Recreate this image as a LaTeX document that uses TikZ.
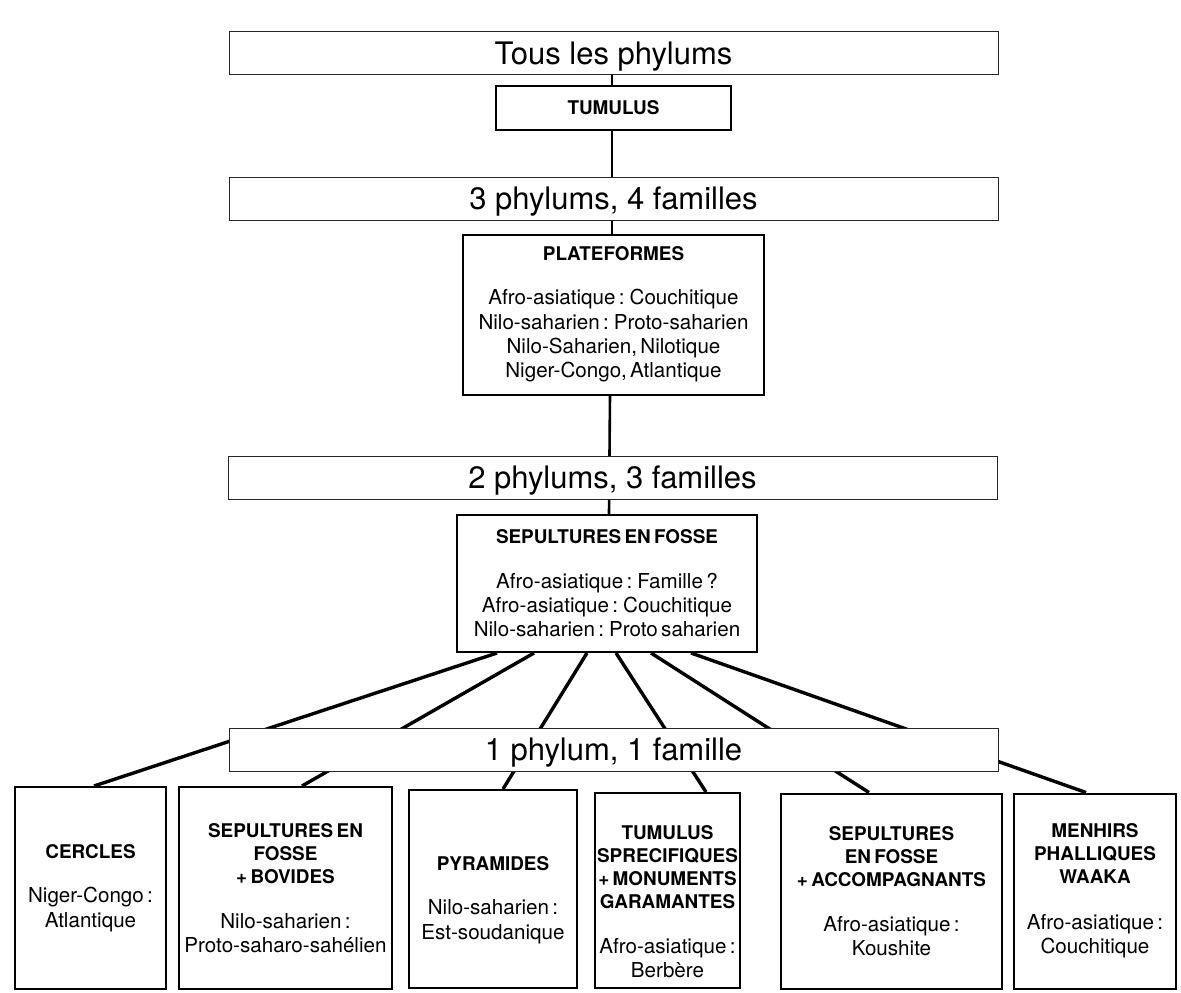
\documentclass[tikz,border=0pt]{standalone}
\usepackage{fontspec}
\setmainfont{TeX Gyre Heros}
\usetikzlibrary{backgrounds}
\newcommand\ttlf{\bfseries\fontsize{18.9}{23}\selectfont}
\newcommand\bdyf{\mdseries\fontsize{20.6}{24.3}\selectfont}
\tikzset{
  band/.style={draw=black!85, line width=1pt, fill=white, inner sep=0pt,
    minimum width=769pt, minimum height=43pt, text height=28pt, text depth=5.6pt,
    font=\fontsize{31}{37}\selectfont},
  box/.style={draw=black, line width=2pt, fill=white, inner sep=0pt, align=center},
  txt/.style={inner sep=0pt, align=center},
  conn/.style={line width=2.6pt},
  fan/.style={line width=3.4pt},
}
\begin{document}
\begin{tikzpicture}[x=1pt,y=-1pt]
\useasboundingbox (0,0) rectangle (1181,993);
% bands
\node[band] (b1) at (613.5,53) {Tous les phylums};
\node[box, minimum width=235pt, minimum height=44pt, font=\ttlf] (tumulus) at (613.5,108) {TUMULUS};
\node[band] (b2) at (613.5,198.5) {3 phylums, 4 familles};
\node[box, minimum width=301pt, minimum height=160pt, text width=297pt] (plat) at (613.5,314.5)
  {\ttlf PLATEFORMES\par\vspace{20pt}\bdyf Afro-asiatique : Couchitique\\Nilo-saharien : Proto-saharien\\Nilo-Saharien, Nilotique\\Niger-Congo, Atlantique\par};
\node[band] (b3) at (612.5,477.5) {2 phylums, 3 familles};
\node[box, minimum width=300pt, minimum height=137pt, text width=296pt] (sep) at (607,583.5)
  {\ttlf SEPULTURES EN FOSSE\par\vspace{20pt}\bdyf Afro-asiatique : Famille ?\\Afro-asiatique : Couchitique\\Nilo-saharien : Proto saharien\par};
\node[band] (b4) at (613.5,749.5) {1 phylum, 1 famille};
% bottom boxes
\node[box, minimum width=151pt, minimum height=202pt, text width=147pt] (cercles) at (90.5,888)
  {\ttlf CERCLES\par\vspace{20pt}\bdyf Niger-Congo :\\Atlantique\par};
\node[box, minimum width=213pt, minimum height=202pt, text width=209pt] (bov) at (285.5,888)
  {\ttlf SEPULTURES EN\\FOSSE\\+ BOVIDES\par\vspace{21pt}\bdyf Nilo-saharien :\\Proto-saharo-sahélien\par};
\node[box, minimum width=168pt, minimum height=198pt] (pyr) at (493,889) {};
\node[txt, text width=164pt] (pyrtxt) at ([yshift=-11pt]pyr.center)
  {\ttlf PYRAMIDES\par\vspace{20pt}\bdyf Nilo-saharien :\\Est-soudanique\par};
\node[box, minimum width=145pt, minimum height=195pt] (tum) at (667.5,890.5) {};
\node[txt, text width=143pt] (tumtxt) at ([yshift=-11pt]tum.center)
  {\ttlf TUMULUS\\SPRECIFIQUES\\+ MONUMENTS\\GARAMANTES\par\vspace{21pt}\bdyf Afro-asiatique :\\Berbère\par};
\node[box, minimum width=221pt, minimum height=195pt, text width=217pt] (acc) at (891.5,891)
  {\ttlf SEPULTURES\\EN FOSSE\\+ ACCOMPAGNANTS\par\vspace{21pt}\bdyf Afro-asiatique :\\Koushite\par};
\node[box, minimum width=162pt, minimum height=195pt, text width=158pt] (men) at (1095,891)
  {\ttlf MENHIRS\\PHALLIQUES\\WAAKA\par\vspace{21pt}\bdyf Afro-asiatique :\\Couchitique\par};
% connectors behind
\begin{scope}[on background layer]
\draw[conn] ([xshift=-1.5pt]b1.south) -- ([xshift=-1.5pt]tumulus.north);
\draw[conn] ([xshift=-1.5pt]tumulus.south) -- ([xshift=-1.5pt]plat.north);
\draw[conn] ([xshift=-3.5pt]plat.south) -- ([xshift=2pt]sep.north);
\draw[fan] ([xshift=-110pt]sep.south) -- ([xshift=3.5pt]cercles.north);
\draw[fan] ([xshift=-73pt]sep.south) -- ([xshift=16.5pt]bov.north);
\draw[fan] ([xshift=-20pt]sep.south) -- ([xshift=10pt]pyr.north);
\draw[fan] ([xshift=9pt]sep.south) -- ([xshift=38.5pt]tum.north);
\draw[fan] ([xshift=44pt]sep.south) -- ([xshift=-22.5pt]acc.north);
\draw[fan] ([xshift=84pt]sep.south) -- ([xshift=-9pt]men.north);
\end{scope}
\end{tikzpicture}
\end{document}
